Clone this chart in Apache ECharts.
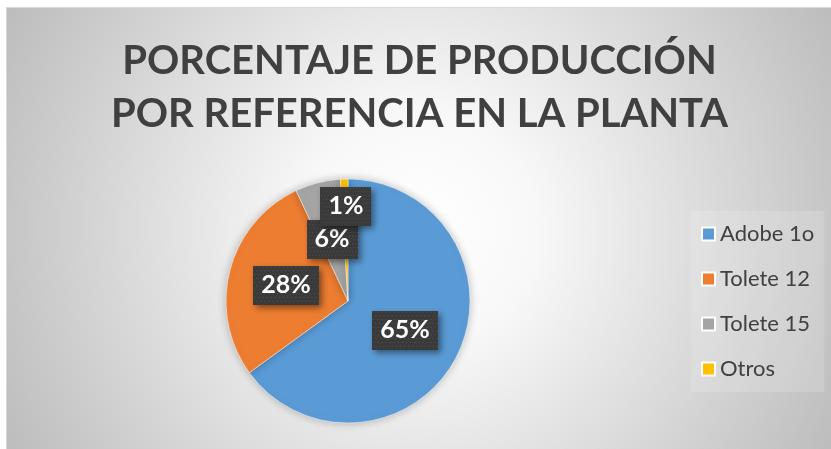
<!DOCTYPE html>
<html>
<head>
<meta charset="utf-8">
<script src="https://cdn.jsdelivr.net/npm/echarts@6/dist/echarts.min.js"></script>
<style>
    html, body { margin: 0; padding: 0; background: #ffffff; }
    #main {
        position: absolute; left: 6px; top: 7px; width: 825px; height: 442px;
        border-top: 1px solid #d9d9d9; border-left: 1px solid #d9d9d9;
    }
</style>
</head>
<body>
<div id="main"></div>
<script>
var titleText = 'PORCENTAJE DE PRODUCCIÓN\nPOR REFERENCIA EN LA PLANTA';
var categories = ['Adobe 1o', 'Tolete 12', 'Tolete 15', 'Otros'];
var values = [65, 28, 6, 1];
var colors = ['#5B9BD5', '#ED7D31', '#A5A5A5', '#FFC000'];

// dotted dark background for data labels
function makePattern(w, h) {
    var c = document.createElement('canvas');
    c.width = w;
    c.height = h;
    var ctx = c.getContext('2d');
    ctx.fillStyle = '#3a3a3a';
    ctx.fillRect(0, 0, w, h);
    ctx.fillStyle = '#575757';
    for (var y = 1; y < h; y += 4) {
        for (var x = ((y - 1) / 4) % 2 ? 3 : 1; x < w; x += 4) {
            ctx.fillRect(x, y, 1, 1);
        }
    }
    return c;
}
var pattern = makePattern(64, 41);

var data = [];
for (var i = 0; i < categories.length; i++) {
    data.push({ name: categories[i], value: values[i] });
}

var myChart = echarts.init(document.getElementById('main'));
var option = {
    backgroundColor: {
        type: 'radial', x: 0.5, y: 0.5, r: 1.05,
        colorStops: [
            { offset: 0, color: '#ffffff' },
            { offset: 0.25, color: '#f8f8f8' },
            { offset: 1, color: '#bdbdbd' }
        ]
    },
    color: colors,
    textStyle: { fontFamily: 'Lato' },
    title: {
        text: titleText,
        left: 'center',
        top: 22,
        textStyle: {
            fontFamily: 'Lato',
            fontSize: 40,
            fontWeight: 'bold',
            color: '#404040',
            lineHeight: 53
        }
    },
    legend: {
        orient: 'vertical',
        left: 684,
        top: 203,
        padding: [12, 10, 12, 10],
        backgroundColor: 'rgba(255,255,255,0.15)',
        itemWidth: 13,
        itemHeight: 13,
        itemGap: 23,
        icon: 'rect',
        data: categories,
        textStyle: {
            fontFamily: 'Lato',
            fontSize: 22,
            lineHeight: 20,
            color: '#404040'
        }
    },
    series: [{
        name: 'Producción',
        type: 'pie',
        center: [341, 293],
        radius: 122,
        startAngle: 90,
        clockwise: true,
        avoidLabelOverlap: false,
        data: data,
        itemStyle: {
            borderWidth: 0.5,
            borderColor: '#ffffff',
            shadowBlur: 8,
            shadowColor: 'rgba(0,0,0,0.25)'
        },
        emphasis: { scale: false },
        label: {
            show: true,
            position: 'inside',
            formatter: '{c}%',
            fontFamily: 'Lato',
            fontSize: 25,
            fontWeight: 'bold',
            color: '#ffffff',
            backgroundColor: { image: pattern },
            padding: [8, 8, 6, 8],
            shadowBlur: 6,
            shadowOffsetX: 3,
            shadowOffsetY: 3,
            shadowColor: 'rgba(0,0,0,0.45)'
        },
        labelLine: { show: false },
        labelLayout: function (params) {
            // the tiny slice label sits higher, as in the original
            if (params.dataIndex === 3) {
                return { dy: -31 };
            }
        }
    }]
};
myChart.setOption(option);
window.addEventListener('resize', function () {
    myChart.resize();
});
</script>
</body>
</html>
